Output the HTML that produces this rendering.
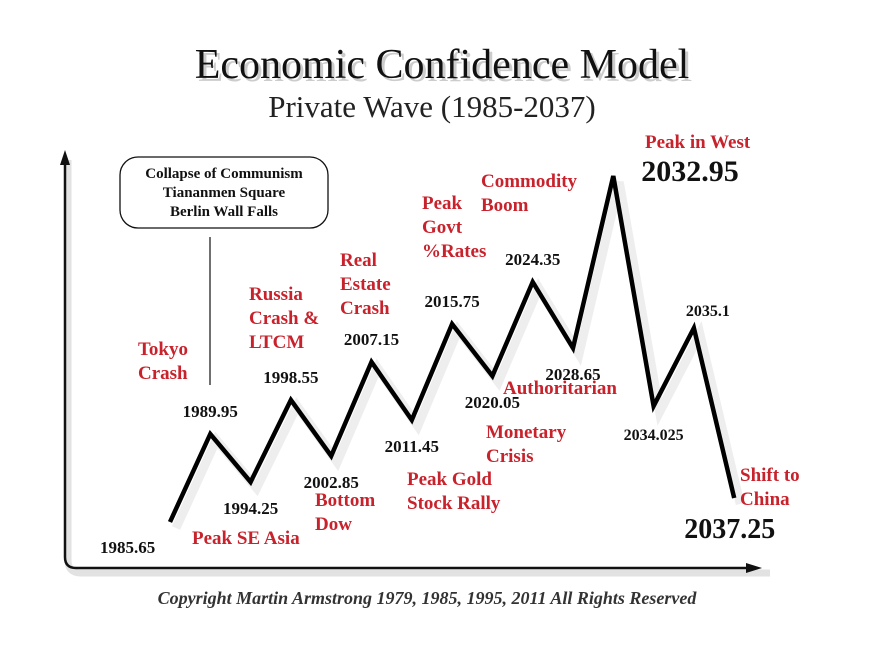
<!DOCTYPE html>
<html><head><meta charset="utf-8"><style>
body{margin:0;background:#fff;width:884px;height:648px;overflow:hidden;font-family:"Liberation Serif",serif}
svg{display:block}
.n{font-family:"Liberation Serif",serif;font-weight:bold;font-size:17px;fill:#111}
.r{font-family:"Liberation Serif",serif;font-weight:bold;font-size:19px;fill:#c8232c}
</style></head><body>
<svg id="chart" width="884" height="648" viewBox="0 0 884 648">
<text x="442" y="78" text-anchor="middle" font-size="42" fill="#ccc" font-family="Liberation Serif,serif" transform="translate(3,3)">Economic Confidence Model</text>
<text x="442" y="78" text-anchor="middle" font-size="42" fill="#111" font-family="Liberation Serif,serif">Economic Confidence Model</text>
<text x="432" y="117" text-anchor="middle" font-size="31" fill="#222" font-family="Liberation Serif,serif">Private Wave (1985-2037)</text>
<g>
<path d="M68 160 V560 Q68 573 81 573 H770" stroke="#e2e2e2" stroke-width="7" fill="none"/>
<path d="M65 160 V557 Q65 568 76 568 H752" stroke="#111" stroke-width="2.5" fill="none"/>
<polygon points="65,150 60,165 70,165" fill="#111"/>
<polygon points="762,568 746,563 746,573" fill="#111"/>
</g>
<g>
<rect x="120" y="157" width="208" height="71" rx="18" fill="#fff" stroke="#111" stroke-width="1.3"/>
<text class="n" x="224" y="178" text-anchor="middle" style="font-size:15px">Collapse of Communism</text>
<text class="n" x="224" y="197" text-anchor="middle" style="font-size:15px">Tiananmen Square</text>
<text class="n" x="224" y="216" text-anchor="middle" style="font-size:15px">Berlin Wall Falls</text>
<line x1="210" y1="237" x2="210" y2="385" stroke="#111" stroke-width="1.2"/>
</g>
<g id="series"></g>
<g id="labels"></g>
<text x="427" y="604" text-anchor="middle" font-size="18" font-style="italic" font-weight="bold" fill="#333" font-family="Liberation Serif,serif">Copyright Martin Armstrong 1979, 1985, 1995, 2011 All Rights Reserved</text>
</svg>
<script>
const categories=["1985.65","1989.95","1994.25","1998.55","2002.85","2007.15","2011.45","2015.75","2020.05","2024.35","2028.65","2032.95","2034.025","2035.1","2037.25"];
const values=[11.5,33.5,21.5,42,28,51.5,37,61,48,71.5,55,98,40.5,60,17.5];
const NS="http://www.w3.org/2000/svg";
function xs(i){return 170+i*40.3;}
function ys(v){return 568-v*4;}
const g=document.getElementById('series');
let d=values.map((v,i)=>(i?'L':'M')+xs(i).toFixed(1)+' '+ys(v).toFixed(1)).join(' ');
const sh=document.createElementNS(NS,'path');


sh.setAttribute('d',d);sh.setAttribute('transform','translate(6,6)');
sh.setAttribute('stroke','#eeeeee');sh.setAttribute('stroke-width','9');sh.setAttribute('fill','none');
g.appendChild(sh);
const ln=document.createElementNS(NS,'path');


ln.setAttribute('d',d);ln.setAttribute('stroke','#000');ln.setAttribute('stroke-width','4.5');ln.setAttribute('fill','none');
g.appendChild(ln);
const L=document.getElementById('labels');
function txt(cls,x,y,s,anchor,size){
  const t=document.createElementNS(NS,'text');
  
  
  t.setAttribute('class',cls);t.setAttribute('x',x);t.setAttribute('y',y);
  if(anchor)t.setAttribute('text-anchor',anchor);
  if(size)t.style.fontSize=size+'px';
  t.textContent=s;L.appendChild(t);return t;
}
function multi(x,y,lines){lines.forEach((s,k)=>{const t=txt('r',x,y+k*24,s);});}
values.forEach((v,i)=>{
  const x=xs(i),y=ys(v),peak=i>0&&i<values.length-1?values[i]>values[i-1]:false;
  let c=categories[i];
  if(i===11){txt('n',x+28,y+5,c,null,30);return;}
  if(i===14){txt('n',x-50,y+40,c,null,28);return;}
  if(i===0){txt('n',x-70,y+31,c);return;}
  if(i===12){txt('n',x-30,y+34,c,null,16);return;}
  if(i===13){txt('n',x-8,y-12,c,null,16);return;}
  if(peak)txt('n',x,y-17,c,'middle');else txt('n',x,y+32,c,'middle');
});
multi(138,355,["Tokyo","Crash"]);
multi(192,544,["Peak SE Asia"]);
multi(249,300,["Russia","Crash &","LTCM"]);
multi(315,506,["Bottom","Dow"]);
multi(340,266,["Real","Estate","Crash"]);
multi(407,485,["Peak Gold","Stock Rally"]);
multi(422,209,["Peak","Govt","%Rates"]);
multi(486,438,["Monetary","Crisis"]);
multi(481,187,["Commodity","Boom"]);
multi(503,394,["Authoritarian"]);
multi(645,148,["Peak in West"]);
multi(740,481,["Shift to","China"]);
</script>
</body></html>
